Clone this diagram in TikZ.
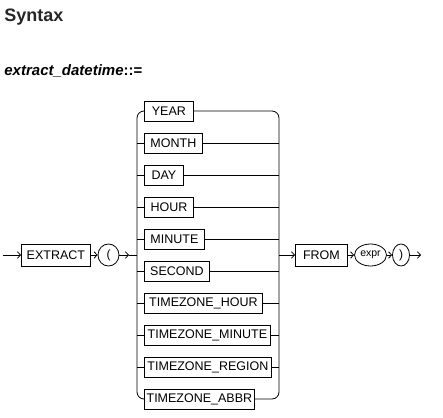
\documentclass[tikz,border=0pt]{standalone}
\usepackage{fontspec}
\setmainfont{Liberation Sans}
\usetikzlibrary{arrows.meta, shapes.geometric}

\tikzset{
  kw/.style={draw, rectangle, anchor=west, minimum height=20pt, inner xsep=1pt, inner ysep=0pt, font=\fontsize{12.5}{14}\selectfont},
  oval/.style={draw, ellipse, inner sep=0pt, minimum height=22pt, font=\fontsize{12}{14}\selectfont},
  flow/.style={-{Straight Barb[length=3pt,width=6.5pt]}}
}

\begin{document}
\begin{tikzpicture}[x=1pt, y=-1pt, line width=0.8pt]

\useasboundingbox (0,0) rectangle (443,417);

\node [anchor=base west, inner sep=0pt, text=black!85, font=\bfseries\fontsize{18}{21}\selectfont] (title) at (4,22) {Syntax};
\node [anchor=base west, inner sep=0pt, font=\bfseries\fontsize{15}{18}\selectfont] (rule) at (4,76) {\textit{extract\_datetime}::=};

\coordinate (start) at (3,255);
\node [kw, minimum width=69pt, minimum height=22pt] (extract) at (21,255) {EXTRACT};
\node [oval, minimum width=21pt] (lp) at (108.5,255) {(};
\coordinate (lin) at (129,255);
\coordinate (lbar) at (137,255);
\coordinate (rbar) at (279,255);

\node [kw, minimum width=49pt] (year) at (144,111) {YEAR};
\node [kw, minimum width=58pt] (month) at (144,143) {MONTH};
\node [kw, minimum width=39pt] (day) at (144,175) {DAY};
\node [kw, minimum width=49pt] (hour) at (144,207) {HOUR};
\node [kw, minimum width=60pt] (minute) at (144,239) {MINUTE};
\node [kw, minimum width=65pt] (second) at (144,271) {SECOND};
\node [kw, minimum width=118pt] (tzhour) at (144,303) {TIMEZONE\_HOUR};
\node [kw, minimum width=126pt] (tzminute) at (144,335) {TIMEZONE\_MINUTE};
\node [kw, minimum width=127pt] (tzregion) at (144,367) {TIMEZONE\_REGION};
\node [kw, minimum width=110pt] (tzabbr) at (144,399) {TIMEZONE\_ABBR};

\node [kw, minimum width=52pt, minimum height=22pt] (from) at (295,255) {FROM};
\node [oval, minimum width=32pt, font=\fontsize{10.5}{12}\selectfont] (expr) at (370.5,255) {expr};
\node [oval, minimum width=17pt] (rp) at (401,255) {)};
\coordinate (stop) at (421,255);

\draw [flow] (start) -- (extract);
\draw [flow] (extract) -- (lp);
\draw [flow] (lp) -- (lin);
\draw (lin) -- (lbar);

\draw [rounded corners=7pt] (year.west) -| (lbar) |- (tzabbr.west);
\draw [rounded corners=7pt] (year.east) -| (rbar) |- (tzabbr.east);

\draw (lbar |- month.west) -- (month.west) (month.east) -- (rbar |- month.east);
\draw (lbar |- day.west) -- (day.west) (day.east) -- (rbar |- day.east);
\draw (lbar |- hour.west) -- (hour.west) (hour.east) -- (rbar |- hour.east);
\draw (lbar |- minute.west) -- (minute.west) (minute.east) -- (rbar |- minute.east);
\draw (lbar |- second.west) -- (second.west) (second.east) -- (rbar |- second.east);
\draw (lbar |- tzhour.west) -- (tzhour.west) (tzhour.east) -- (rbar |- tzhour.east);
\draw (lbar |- tzminute.west) -- (tzminute.west) (tzminute.east) -- (rbar |- tzminute.east);
\draw (lbar |- tzregion.west) -- (tzregion.west) (tzregion.east) -- (rbar |- tzregion.east);

\draw [flow] (rbar) -- (from);
\draw [flow] (from) -- (expr);
\draw [flow] (expr) -- (rp);
\draw [flow] (rp) -- (stop);

\end{tikzpicture}
\end{document}
